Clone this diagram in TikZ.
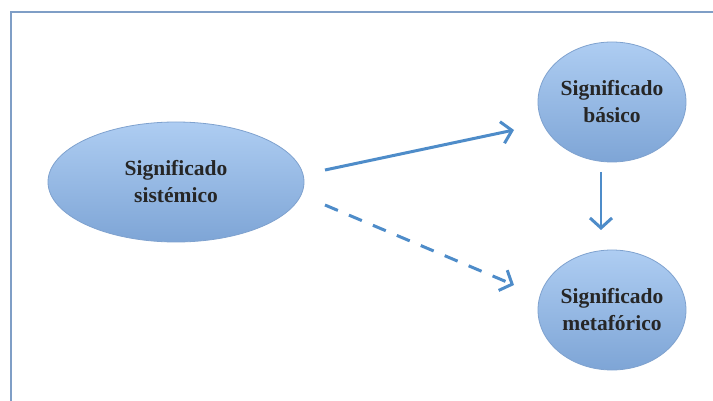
\documentclass[tikz,border=0pt]{standalone}
\usepackage{fontspec}
\setmainfont{Liberation Serif}
\usetikzlibrary{shapes.geometric,arrows.meta}
\definecolor{framec}{HTML}{7F9EC6}
\definecolor{edgec}{HTML}{7FA2CF}
\definecolor{topc}{HTML}{AECDF2}
\definecolor{botc}{HTML}{7EA5D6}
\definecolor{arrc}{HTML}{4E8CC9}
\tikzset{
  blob/.style={ellipse, draw=edgec, line width=0.8pt, top color=topc, bottom color=botc,
    align=center, font=\fontsize{21.5}{27}\selectfont\bfseries, text=black!85, inner sep=0pt},
  conn/.style={draw=arrc, line width=3pt, -{Straight Barb[length=10pt,width=22pt,line width=3pt]}},
}
\begin{document}
\begin{tikzpicture}[x=1pt,y=-1pt]
\useasboundingbox (0,0) rectangle (713,401);
\fill[white] (0,0) rectangle (713,401);
\draw[framec, line width=2.2pt] (725,12) -- (11,12) -- (11,415);
\node[blob, minimum width=256pt, minimum height=120pt] (sis) at (176,182) {Significado\\sistémico};
\node[blob, minimum width=148pt, minimum height=120pt] (bas) at (612,102) {Significado\\básico};
\node[blob, minimum width=148pt, minimum height=120pt] (met) at (612,310) {Significado\\metafórico};
\coordinate (a1) at (325,170);
\coordinate (a2) at (514,130);
\coordinate (b1) at (325,205);
\coordinate (b2) at (514,285);
\coordinate (c1) at (601,172);
\coordinate (c2) at (601,230);
\draw[conn] (a1) -- (a2);
\draw[conn, dash pattern=on 14pt off 12pt] (b1) -- (b2);
\draw[conn, line width=2.5pt] (c1) -- (c2);
\end{tikzpicture}
\end{document}
